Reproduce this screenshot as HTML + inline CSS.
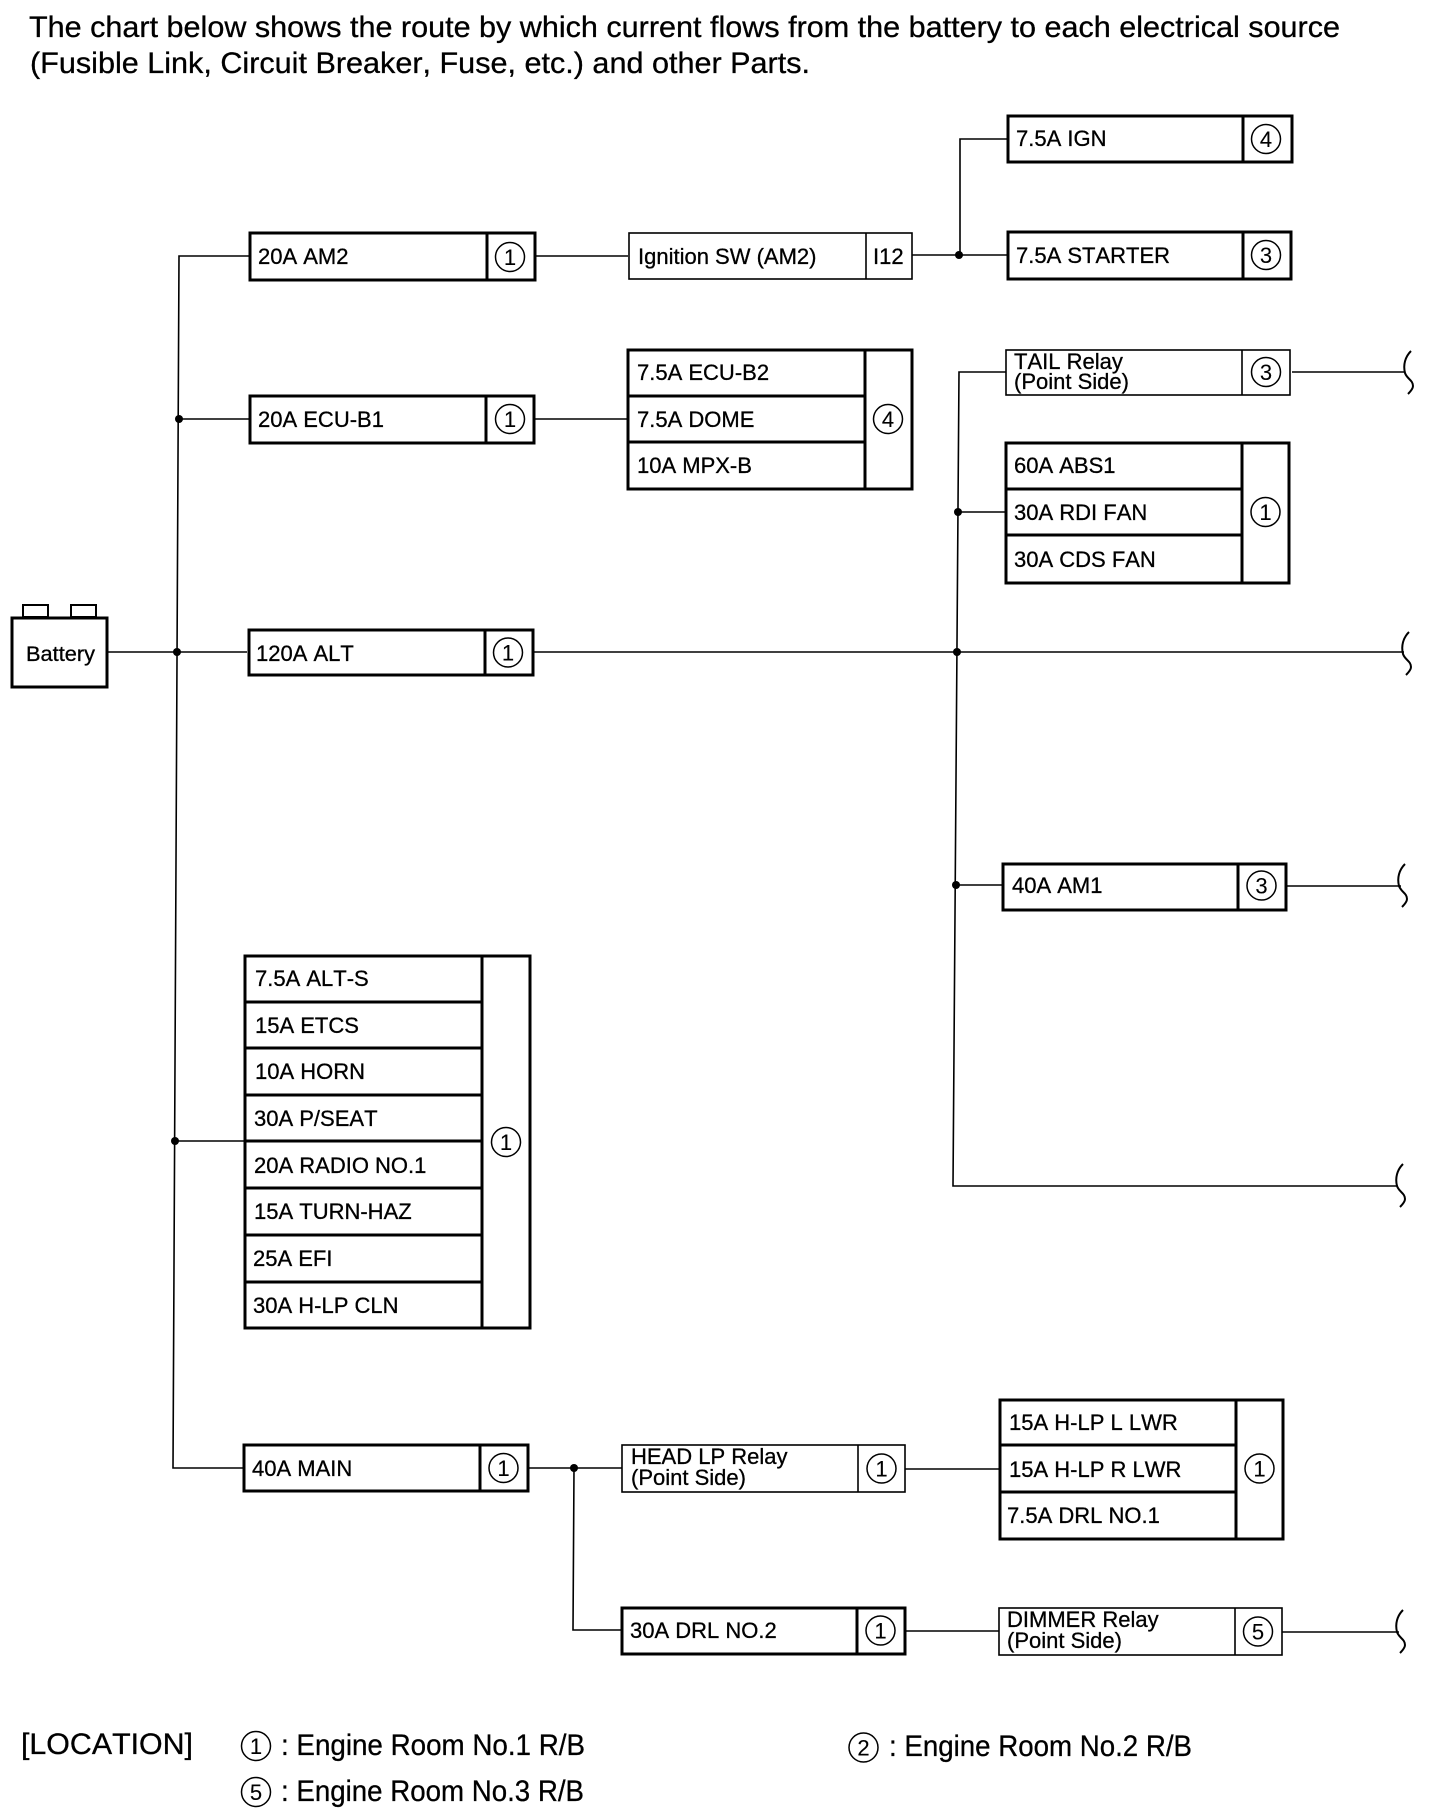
<!DOCTYPE html>
<html><head><meta charset="utf-8"><style>
html,body{margin:0;padding:0;background:#fff}
svg{display:block}
text{font-family:"Liberation Sans",sans-serif;fill:#000;stroke:#000;stroke-width:.3;font-kerning:none}
.l{font-size:22px}.s{font-size:21px}.h{font-size:29.5px}.c{font-size:22px;text-anchor:middle;stroke-width:.1}
.k rect,.k line{fill:none;stroke:#000;stroke-width:3}
.n rect,.n line{fill:none;stroke:#000;stroke-width:1.6}
.w{fill:none;stroke:#000;stroke-width:1.6}
.o{fill:none;stroke:#000;stroke-width:1.5}
.b{fill:none;stroke:#000;stroke-width:2}
</style></head><body>
<svg xmlns="http://www.w3.org/2000/svg" width="1440" height="1820" viewBox="0 0 1440 1820">
<rect width="1440" height="1820" fill="#fff"/>
<text class="h" x="29" y="37" textLength="1311" lengthAdjust="spacingAndGlyphs">The chart below shows the route by which current flows from the battery to each electrical source</text>
<text class="h" x="30" y="73" textLength="780" lengthAdjust="spacingAndGlyphs">(Fusible Link, Circuit Breaker, Fuse, etc.) and other Parts.</text>

<!-- wires -->
<path class="w" d="M249 256H179L173 1468H243M107 652H247M179 419H249M534 419H628M535 256H628M912 255H1007M960 255V139H1007"/>
<path class="w" d="M1006 372H959L953 1186H1398M958 512H1005M533 652H1404M956 885H1002M1286 886H1401M1292 372H1404M175 1141H245"/>
<path class="w" d="M528 1468H622M574 1468L573 1630H621M905 1469H999M905 1631H999M1282 1632H1399"/>
<g fill="#000">
<circle cx="179" cy="419" r="4"/><circle cx="177" cy="652" r="4"/><circle cx="175" cy="1141" r="4"/>
<circle cx="959" cy="255" r="4"/><circle cx="958" cy="512" r="4"/><circle cx="957" cy="652" r="4"/><circle cx="956" cy="885" r="4"/><circle cx="574" cy="1468" r="4"/>
</g>

<!-- line breaks -->
<path class="b" d="M1411 351C1405 357 1403 365 1405 373C1407 379 1413 380 1413 386C1413 389 1410 392 1408 394"/>
<path class="b" d="M1409 632C1403 638 1401 646 1403 654C1405 660 1411 661 1411 667C1411 670 1408 673 1406 675"/>
<path class="b" d="M1405 864C1399 870 1397 878 1399 886C1401 892 1407 893 1407 899C1407 902 1404 905 1402 907"/>
<path class="b" d="M1403 1164C1397 1170 1395 1178 1397 1186C1399 1192 1405 1193 1405 1199C1405 1202 1402 1205 1400 1207"/>
<path class="b" d="M1403 1610C1397 1616 1395 1624 1397 1632C1399 1638 1405 1639 1405 1645C1405 1648 1402 1651 1400 1653"/>

<!-- battery -->
<g class="k"><rect x="12" y="618" width="95" height="69"/></g>
<g class="n"><rect x="23" y="605" width="25" height="12" style="stroke-width:2"/><rect x="71" y="605" width="25" height="12" style="stroke-width:2"/></g>
<text class="s" x="26" y="661" textLength="69" lengthAdjust="spacingAndGlyphs">Battery</text>

<!-- single boxes -->
<g class="k">
<rect x="250" y="233" width="285" height="47"/><line x1="487" y1="233" x2="487" y2="280"/>
<rect x="250" y="396" width="284" height="47"/><line x1="486" y1="396" x2="486" y2="443"/>
<rect x="249" y="630" width="284" height="45"/><line x1="485" y1="630" x2="485" y2="675"/>
<rect x="244" y="1445" width="284" height="46"/><line x1="480" y1="1445" x2="480" y2="1491"/>
<rect x="622" y="1608" width="283" height="46"/><line x1="857" y1="1608" x2="857" y2="1654"/>
<rect x="1008" y="116" width="284" height="46"/><line x1="1243" y1="116" x2="1243" y2="162"/>
<rect x="1008" y="232" width="283" height="47"/><line x1="1243" y1="232" x2="1243" y2="279"/>
<rect x="1003" y="864" width="283" height="46"/><line x1="1238" y1="864" x2="1238" y2="910"/>
<!-- stacks -->
<rect x="628" y="350" width="284" height="139"/><line x1="865" y1="350" x2="865" y2="489"/><line x1="628" y1="396" x2="865" y2="396"/><line x1="628" y1="442" x2="865" y2="442"/>
<rect x="1006" y="443" width="283" height="140"/><line x1="1242" y1="443" x2="1242" y2="583"/><line x1="1006" y1="489" x2="1242" y2="489"/><line x1="1006" y1="535" x2="1242" y2="535"/>
<rect x="245" y="956" width="285" height="372"/><line x1="482" y1="956" x2="482" y2="1328"/>
<line x1="245" y1="1002" x2="482" y2="1002"/><line x1="245" y1="1048" x2="482" y2="1048"/><line x1="245" y1="1095" x2="482" y2="1095"/><line x1="245" y1="1141" x2="482" y2="1141"/><line x1="245" y1="1188" x2="482" y2="1188"/><line x1="245" y1="1235" x2="482" y2="1235"/><line x1="245" y1="1282" x2="482" y2="1282"/>
<rect x="1000" y="1400" width="283" height="139"/><line x1="1236" y1="1400" x2="1236" y2="1539"/><line x1="1000" y1="1445" x2="1236" y2="1445"/><line x1="1000" y1="1492" x2="1236" y2="1492"/>
</g>
<g class="n">
<rect x="629" y="233" width="283" height="46"/><line x1="866" y1="233" x2="866" y2="279"/>
<rect x="1006" y="350" width="284" height="45"/><line x1="1242" y1="350" x2="1242" y2="395"/>
<rect x="622" y="1445" width="283" height="47"/><line x1="858" y1="1445" x2="858" y2="1492"/>
<rect x="999" y="1608" width="283" height="47"/><line x1="1235" y1="1608" x2="1235" y2="1655"/>
</g>

<!-- labels -->
<text class="l" x="258" y="264">20A AM2</text>
<text class="l" x="638" y="264">Ignition SW (AM2)</text>
<text class="l" x="873" y="264">I12</text>
<text class="l" x="1016" y="146">7.5A IGN</text>
<text class="l" x="1016" y="263">7.5A STARTER</text>
<text class="l" x="258" y="427">20A ECU-B1</text>
<text class="l" x="637" y="380">7.5A ECU-B2</text>
<text class="l" x="637" y="427">7.5A DOME</text>
<text class="l" x="637" y="473">10A MPX-B</text>
<text class="l" x="1014" y="369">TAIL Relay</text>
<text class="l" x="1014" y="389">(Point Side)</text>
<text class="l" x="1014" y="473">60A ABS1</text>
<text class="l" x="1014" y="520">30A RDI FAN</text>
<text class="l" x="1014" y="567">30A CDS FAN</text>
<text class="l" x="256" y="661">120A ALT</text>
<text class="l" x="1012" y="893">40A AM1</text>
<text class="l" x="255" y="986">7.5A ALT-S</text>
<text class="l" x="255" y="1033">15A ETCS</text>
<text class="l" x="255" y="1079">10A HORN</text>
<text class="l" x="254" y="1126">30A P/SEAT</text>
<text class="l" x="254" y="1173">20A RADIO NO.1</text>
<text class="l" x="254" y="1219">15A TURN-HAZ</text>
<text class="l" x="253" y="1266">25A EFI</text>
<text class="l" x="253" y="1313">30A H-LP CLN</text>
<text class="l" x="252" y="1476">40A MAIN</text>
<text class="l" x="631" y="1464">HEAD LP Relay</text>
<text class="l" x="631" y="1485">(Point Side)</text>
<text class="l" x="630" y="1638">30A DRL NO.2</text>
<text class="l" x="1009" y="1430">15A H-LP L LWR</text>
<text class="l" x="1009" y="1477">15A H-LP R LWR</text>
<text class="l" x="1007" y="1523">7.5A DRL NO.1</text>
<text class="l" x="1007" y="1627">DIMMER Relay</text>
<text class="l" x="1007" y="1648">(Point Side)</text>

<!-- circled numbers -->
<g>
<circle class="o" cx="510" cy="257" r="14.5"/><text class="c" x="510" y="265">1</text>
<circle class="o" cx="510" cy="419" r="14.5"/><text class="c" x="510" y="427">1</text>
<circle class="o" cx="888" cy="419" r="14.5"/><text class="c" x="888" y="427">4</text>
<circle class="o" cx="1266" cy="139" r="14.5"/><text class="c" x="1266" y="147">4</text>
<circle class="o" cx="1266" cy="255" r="14.5"/><text class="c" x="1266" y="263">3</text>
<circle class="o" cx="1266" cy="372" r="14.5"/><text class="c" x="1266" y="380">3</text>
<circle class="o" cx="1265.5" cy="512" r="14.5"/><text class="c" x="1265.5" y="520">1</text>
<circle class="o" cx="508" cy="652.5" r="14.5"/><text class="c" x="508" y="660.5">1</text>
<circle class="o" cx="1261.5" cy="885.5" r="14.5"/><text class="c" x="1261.5" y="893.5">3</text>
<circle class="o" cx="506" cy="1142" r="14.5"/><text class="c" x="506" y="1150">1</text>
<circle class="o" cx="503.5" cy="1468" r="14.5"/><text class="c" x="503.5" y="1476">1</text>
<circle class="o" cx="881.5" cy="1468.5" r="14.5"/><text class="c" x="881.5" y="1476.5">1</text>
<circle class="o" cx="1259.5" cy="1468.5" r="14.5"/><text class="c" x="1259.5" y="1476.5">1</text>
<circle class="o" cx="880.5" cy="1630.5" r="14.5"/><text class="c" x="880.5" y="1638.5">1</text>
<circle class="o" cx="1258" cy="1631.5" r="14.5"/><text class="c" x="1258" y="1639.5">5</text>
<circle class="o" cx="256" cy="1746" r="14.5"/><text class="c" x="256" y="1754">1</text>
<circle class="o" cx="256" cy="1792" r="14.5"/><text class="c" x="256" y="1800">5</text>
<circle class="o" cx="863.5" cy="1747.5" r="14.5"/><text class="c" x="863.5" y="1755.5">2</text>
</g>

<!-- legend -->
<text class="h" x="21" y="1754" textLength="172" lengthAdjust="spacingAndGlyphs">[LOCATION]</text>
<text class="h" x="281" y="1755" textLength="304" lengthAdjust="spacingAndGlyphs">: Engine Room No.1 R/B</text>
<text class="h" x="281" y="1801" textLength="303" lengthAdjust="spacingAndGlyphs">: Engine Room No.3 R/B</text>
<text class="h" x="889" y="1756" textLength="303" lengthAdjust="spacingAndGlyphs">: Engine Room No.2 R/B</text>
</svg>
</body></html>
